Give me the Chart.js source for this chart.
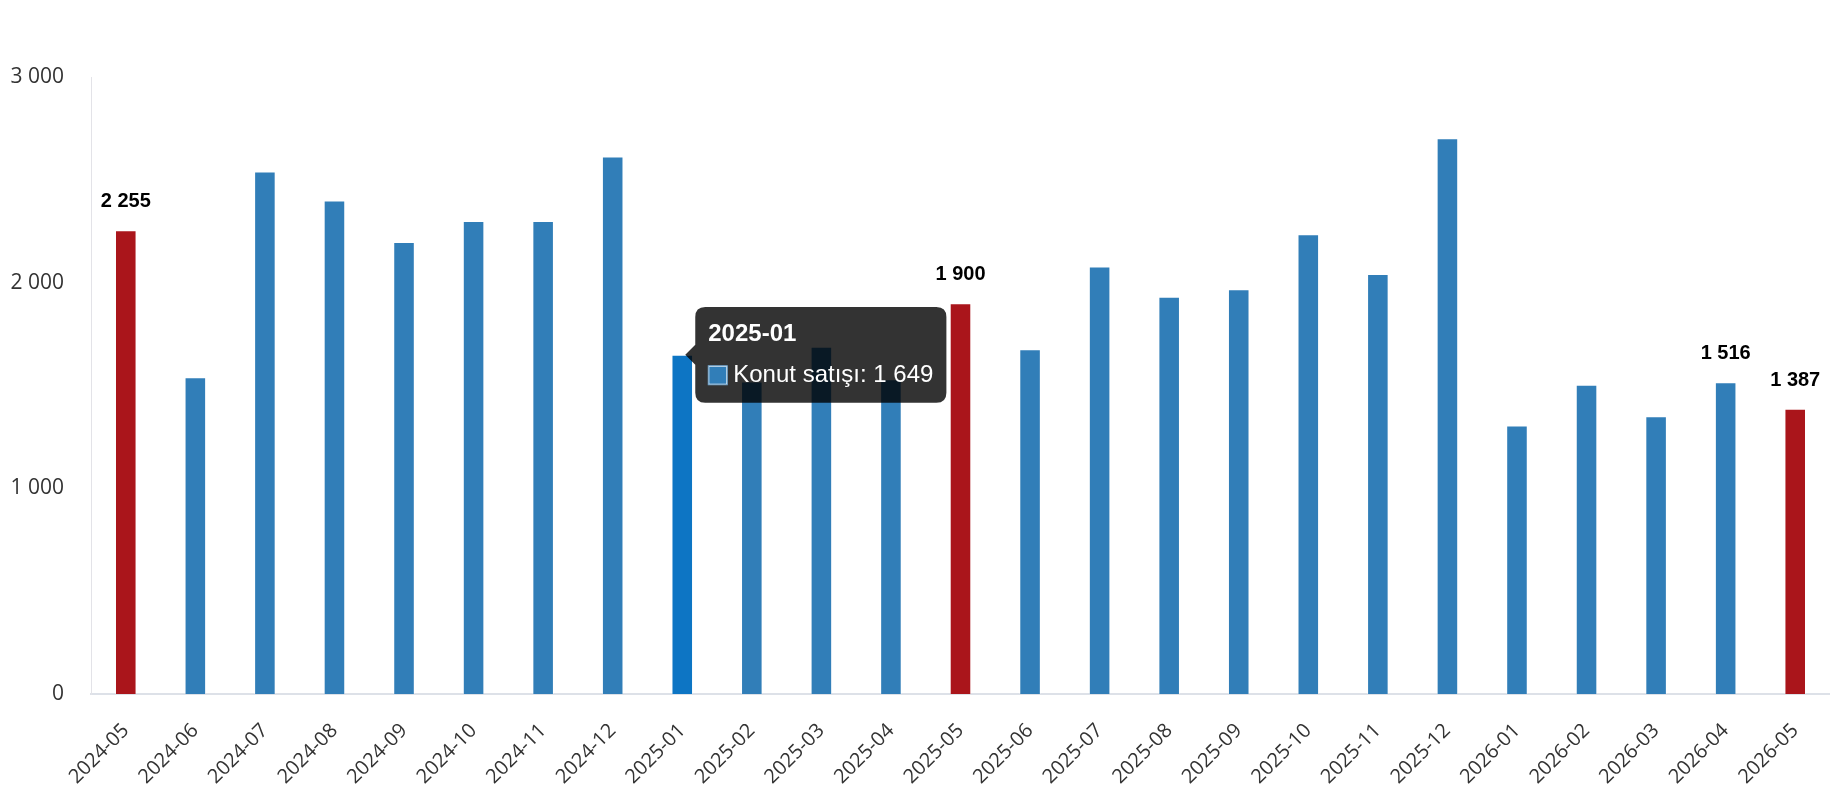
<!DOCTYPE html>
<html>
<head>
<meta charset="utf-8">
<script src="https://cdn.jsdelivr.net/npm/chart.js@4/dist/chart.umd.min.js"></script>
<style>
  html, body { margin: 0; padding: 0; background: #fff; }
  #wrap { width: 1830px; height: 800px; position: relative; }
</style>
</head>
<body>
<div id="wrap"><canvas id="chartKonut"></canvas></div>
<script>
// Konut satışları, aylık
const months = [
  '2024-05', '2024-06', '2024-07', '2024-08', '2024-09', '2024-10', '2024-11', '2024-12',
  '2025-01', '2025-02', '2025-03', '2025-04', '2025-05', '2025-06', '2025-07', '2025-08',
  '2025-09', '2025-10', '2025-11', '2025-12',
  '2026-01', '2026-02', '2026-03', '2026-04', '2026-05'
];
const sales = [
  2255, 1540, 2540, 2399, 2198, 2300, 2300, 2614,
  1649, 1520, 1689, 1530, 1900, 1676, 2078, 1932,
  1968, 2236, 2042, 2702,
  1305, 1504, 1350, 1516, 1387
];
const yTicks = [0, 1000, 2000, 3000];
const redMonths = ['2024-05', '2025-05', '2026-05'];
const labelledMonths = ['2024-05', '2025-05', '2026-04', '2026-05'];
const activeMonth = '2025-01';

const BLUE = '#317EB8';
const BLUE_HOVER = '#0D75C4';
const RED = '#AA151B';

const fmt = n => String(n).replace(/\B(?=(\d{3})+(?!\d))/g, ' ');

// ── Değer etiketleri (seçili çubukların üstünde) ─────────────
const valueLabels = {
  id: 'valueLabels',
  afterDatasetsDraw(chart) {
    const ctx = chart.ctx;
    const meta = chart.getDatasetMeta(0);
    ctx.save();
    ctx.font = 'bold 20px "Liberation Sans", Arial, sans-serif';
    ctx.fillStyle = '#000';
    ctx.textAlign = 'center';
    ctx.textBaseline = 'alphabetic';
    months.forEach((m, i) => {
      if (!labelledMonths.includes(m)) return;
      const bar = meta.data[i];
      ctx.fillText(fmt(sales[i]), bar.x, bar.y - 23);
    });
    ctx.restore();
  }
};

const chart = new Chart(document.getElementById('chartKonut'), {
  type: 'bar',
  data: {
    labels: months,
    datasets: [{
      label: 'Konut satışı',
      data: sales,
      backgroundColor: months.map(m => redMonths.includes(m) ? RED : BLUE),
      hoverBackgroundColor: months.map(m => redMonths.includes(m) ? RED : BLUE_HOVER),
      borderColor: 'rgba(255,255,255,0.35)',
      hoverBorderColor: 'rgba(255,255,255,0.35)',
      borderWidth: 1,
      borderSkipped: 'start',
      barPercentage: 0.31,
      categoryPercentage: 1
    }]
  },
  options: {
    responsive: true, maintainAspectRatio: false,
    animation: false,
    layout: { padding: { top: 77, left: 11, right: 0, bottom: 0 } },
    plugins: {
      legend: { display: false },
      tooltip: {
        backgroundColor: 'rgba(0,0,0,0.8)',
        titleFont: { family: '"Liberation Sans", Arial, sans-serif', size: 24, weight: 'bold' },
        bodyFont: { family: '"Liberation Sans", Arial, sans-serif', size: 24 },
        titleColor: '#fff', bodyColor: '#fff',
        padding: 13, cornerRadius: 10, titleMarginBottom: 12,
        caretSize: 10, caretPadding: 3,
        boxWidth: 19, boxHeight: 19, boxPadding: 4,
        callbacks: {
          label: c => `${c.dataset.label}: ${fmt(c.raw)}`,
          labelColor: () => ({ backgroundColor: BLUE, borderColor: '#6FA3CC', borderWidth: 1 })
        }
      }
    },
    scales: {
      x: {
        grid: { display: false, drawTicks: false },
        border: { display: true, color: '#DDE1E8', width: 2 },
        ticks: { color: '#333', font: { family: '"Open Sans", sans-serif', size: 20 },
                 maxRotation: 45, minRotation: 45, padding: 25, autoSkip: false },
        afterFit: s => { s.height = 106; s.paddingLeft = 0; s.paddingRight = 0; }
      },
      y: {
        min: 0, max: 3000,
        grid: { display: false, drawTicks: false },
        border: { display: true, color: '#E3E3E8', width: 1 },
        afterBuildTicks: s => { s.ticks = yTicks.map(v => ({ value: v })); },
        afterFit: s => { s.width = 80; },
        ticks: { color: '#333', font: { family: '"Open Sans", sans-serif', size: 21 },
                 padding: 27, callback: v => fmt(v) }
      }
    }
  },
  plugins: [valueLabels]
});

// ── 2025-01 için aktif çubuk ve tooltip ──────────────────────
const idx = months.indexOf(activeMonth);
chart.setActiveElements([{ datasetIndex: 0, index: idx }]);
chart.tooltip.setActiveElements([{ datasetIndex: 0, index: idx }], { x: 0, y: 0 });
chart.update();
</script>
</body>
</html>
